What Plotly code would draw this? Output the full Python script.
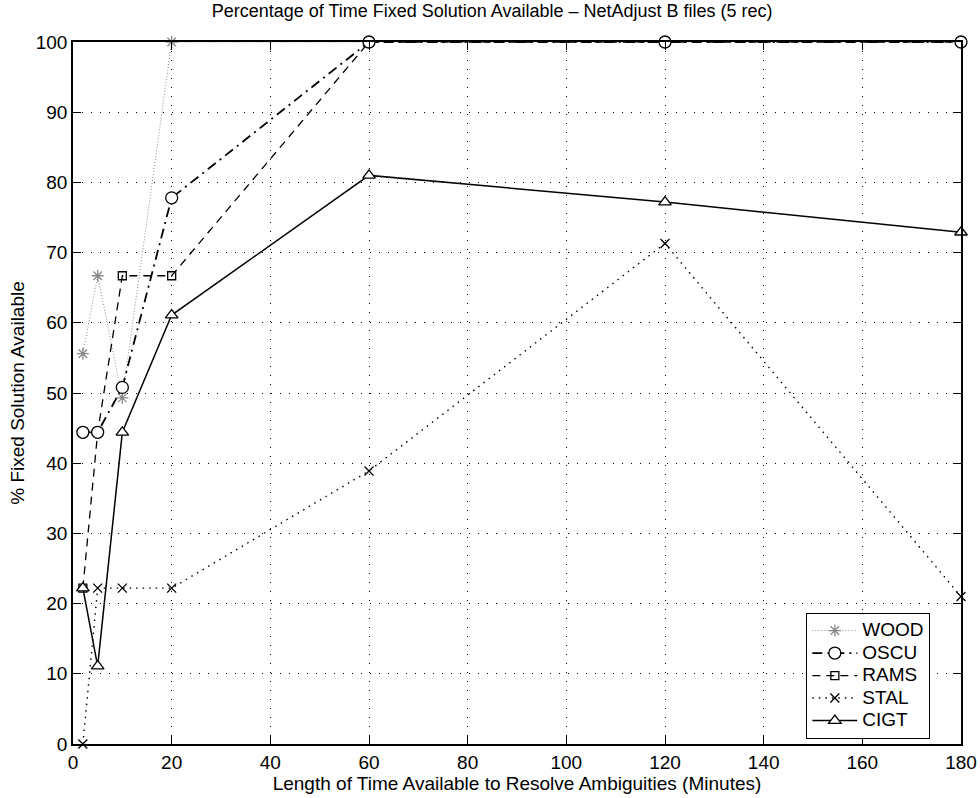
import plotly.graph_objects as go

# Time windows (minutes) and percentage of time a fixed solution is available
minutes = [2, 5, 10, 20, 60, 120, 180]
wood = [55.6, 66.7, 49.3, 100, 100, 100, 100]
oscu = [44.4, 44.4, 50.8, 77.8, 100, 100, 100]
rams = [22.2, 44.4, 66.7, 66.7, 100, 100, 100]
stal = [0, 22.2, 22.2, 22.2, 38.9, 71.3, 21.0]
cigt = [22.2, 11.1, 44.4, 61.1, 81.0, 77.2, 72.9]

x_ticks = [0, 20, 40, 60, 80, 100, 120, 140, 160, 180]
y_ticks = [0, 10, 20, 30, 40, 50, 60, 70, 80, 90, 100]

FONT = "Arial, Liberation Sans, Helvetica, sans-serif"

# (name, values, line style, marker symbol, marker size, marker fill, legend rank)
# drawn in this order so open circles/triangles sit on top of the squares
series = [
    ("WOOD", wood, dict(color="#8a8a8a", width=1, dash="1px,2px"), "asterisk-open", 10, None, 1),
    ("RAMS", rams, dict(color="black", width=1.3, dash="8px,6px"), "square-open", 8, None, 3),
    ("OSCU", oscu, dict(color="black", width=1.8, dash="10px,5px,2px,5px"), "circle", 12, "white", 2),
    ("STAL", stal, dict(color="black", width=1.4, dash="1.5px,5px"), "x-thin-open", 9, None, 4),
    ("CIGT", cigt, dict(color="black", width=1.5), "triangle-up", 11, "white", 5),
]

fig = go.Figure()
for name, vals, line, symbol, size, fill, rank in series:
    edge = line["color"]
    fig.add_trace(go.Scatter(
        x=minutes, y=vals, mode="lines+markers",
        name=f"<span style='font-size:19px'>{name}</span>",
        line=line, legendrank=rank, cliponaxis=False,
        marker=dict(symbol=symbol, size=size, color=fill if fill else edge,
                    line=dict(color=edge, width=1.3)),
    ))

axis_common = dict(
    showline=True, linecolor="black", linewidth=1.6, mirror="allticks",
    ticks="inside", ticklen=8, tickcolor="black", tickwidth=1.2,
    showgrid=True, gridcolor="black", gridwidth=1, griddash="1px,8px",
    zeroline=False, automargin=False,
    tickfont=dict(family=FONT, size=19, color="black"),
)

fig.update_xaxes(
    range=[0, 180], tickvals=x_ticks,
    title=dict(text="Length of Time Available to Resolve Ambiguities (Minutes)",
               font=dict(family=FONT, size=19, color="black"), standoff=2),
    **axis_common,
)
fig.update_yaxes(
    range=[0, 100], tickvals=y_ticks,
    title=dict(text="% Fixed Solution Available",
               font=dict(family=FONT, size=19, color="black"), standoff=6),
    **axis_common,
)

fig.update_layout(
    width=980, height=798,
    margin=dict(l=73, r=19, t=42, b=54),
    paper_bgcolor="white", plot_bgcolor="white",
    font=dict(family=FONT, size=19, color="black"),
    title=dict(text="Percentage of Time Fixed Solution Available \u2013 NetAdjust B files (5 rec)",
               x=0.472, xanchor="center", xref="paper", y=0.995, yanchor="top",
               font=dict(family=FONT, size=18, color="black")),
    legend=dict(x=0.8255, y=0.1866, xanchor="left", yanchor="top",
                bgcolor="white", bordercolor="black", borderwidth=1.3,
                itemwidth=45,
                font=dict(family=FONT, size=15, color="black")),
    showlegend=True,
)

fig.write_html("out.html")
